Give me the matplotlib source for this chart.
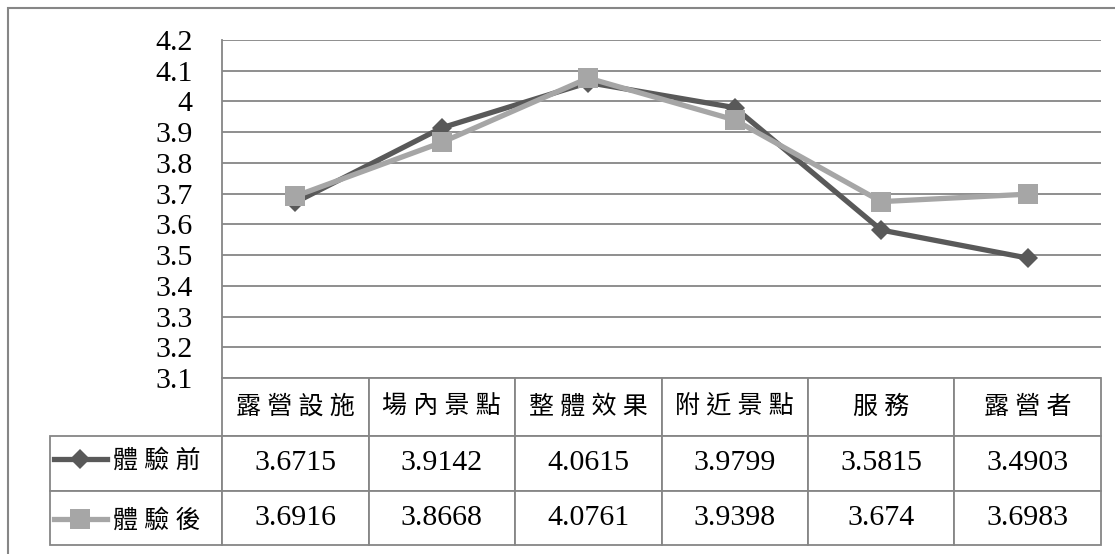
import numpy as np
import matplotlib.pyplot as plt
from matplotlib.patches import Rectangle

categories = ['露營設施', '場內景點', '整體效果', '附近景點', '服務', '露營者']
before = [3.6715, 3.9142, 4.0615, 3.9799, 3.5815, 3.4903]
after = [3.6916, 3.8668, 4.0761, 3.9398, 3.674, 3.6983]
before_labels = ['3.6715', '3.9142', '4.0615', '3.9799', '3.5815', '3.4903']
after_labels = ['3.6916', '3.8668', '4.0761', '3.9398', '3.674', '3.6983']
series_names = ['體驗前', '體驗後']
yticks = [3.1, 3.2, 3.3, 3.4, 3.5, 3.6, 3.7, 3.8, 3.9, 4.0, 4.1, 4.2]
ytick_labels = ['3.1', '3.2', '3.3', '3.4', '3.5', '3.6', '3.7', '3.8', '3.9', '4', '4.1', '4.2']

plt.rcParams['font.family'] = ['Liberation Serif', 'Noto Sans CJK TC']
grid_c = '#868686'
dark = '#595959'
light = '#a6a6a6'

W, H = 1115, 554
fig = plt.figure(figsize=(W / 100, H / 100), dpi=100)

# outer chart border (only left/top visible)
fig.patches.append(Rectangle((8 / W, -0.1), 1.2, (H - 8) / H + 0.1, transform=fig.transFigure,
                             fill=False, edgecolor=grid_c, lw=1.5))

x0, x1, ytop, ybot = 222, 1101, 40, 378
pw, ph = x1 - x0, ybot - ytop
ax = fig.add_axes([x0 / W, (H - ybot) / H, pw / W, ph / H])
ax.set_xlim(-0.5, 5.5)
ax.set_ylim(3.1, 4.2)
ax.set_yticks(yticks)
ax.set_yticklabels(ytick_labels, fontsize=21.5, family='Liberation Serif')
ax.tick_params(axis='y', length=0, pad=21)
ax.set_xticks([])
for s in ['top', 'right', 'bottom']:
    ax.spines[s].set_visible(False)
ax.spines['left'].set_color(grid_c)
ax.spines['left'].set_linewidth(1.3)
ax.yaxis.grid(True, color=grid_c, lw=1.3)
ax.set_axisbelow(True)

x = np.arange(len(categories))
l1, = ax.plot(x, before, color=dark, lw=3.8, marker='D', ms=10.5, mew=0, clip_on=False)
l2, = ax.plot(x, after, color=light, lw=3.8, marker='s', ms=14.5, mew=0, clip_on=False)

# data table under the plot
tb_bottom = 545
tab = ax.table(cellText=[before_labels, after_labels],
               rowLabels=['', ''], colLabels=[' '.join(c) for c in categories],
               cellLoc='center', rowLoc='center',
               bbox=[0, -(tb_bottom - ybot) / ph, 1, (tb_bottom - ybot) / ph])
tab._autoColumns = [c for c in tab._autoColumns if c != -1]
tab.auto_set_font_size(False)
row_h = {0: 58, 1: 55, 2: 54}
for (r, c), cell in tab.get_celld().items():
    cell.set_width((172 if c == -1 else 146.5) / pw)
    cell.set_height(row_h[r] / ph)
    cell.set_edgecolor(grid_c)
    cell.set_linewidth(1.3)
    if r == 0:
        cell.get_text().set_fontsize(18)
    else:
        cell.get_text().set_fontsize(21.5)
        cell.get_text().set_family('Liberation Serif')

leg = fig.legend([l1, l2], [' '.join(n) for n in series_names], loc='upper left',
                 bbox_to_anchor=(54 / W, (H - 449) / H), frameon=False,
                 fontsize=18, handlelength=2.1, handletextpad=0.25,
                 labelspacing=1.45, borderaxespad=0, borderpad=0)

fig.savefig('out.png', dpi=100)
